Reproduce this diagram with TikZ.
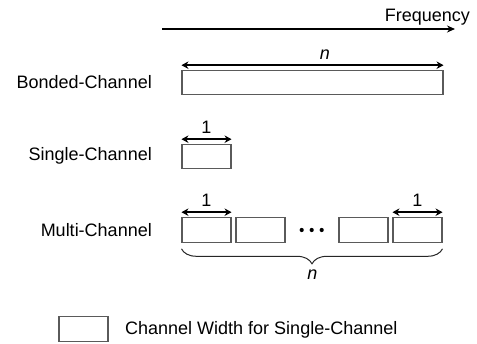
\documentclass[tikz,border=0pt]{standalone}
\usepackage{fontspec}
\setmainfont{Liberation Sans}
\usetikzlibrary{arrows.meta,decorations.pathreplacing}
\definecolor{boxline}{HTML}{5A5A5A}
\tikzset{
  chan/.style={draw=boxline, line width=1.1pt, fill=white, minimum height=24.5pt, inner sep=0pt},
  txt/.style={font=\fontsize{18}{21}\selectfont, inner sep=0pt},
  dimarrow/.style={line width=1.8pt, {Stealth[length=7pt,width=7.5pt]}-{Stealth[length=7pt,width=7.5pt]}},
  freqarrow/.style={line width=1.8pt, -{Stealth[length=8pt,width=7pt]}},
  dot/.style={circle, fill=black, inner sep=0pt, minimum size=4.2pt}
}
\begin{document}
\begin{tikzpicture}[x=1pt,y=-1pt]
\useasboundingbox (0,0) rectangle (477,344);

% frequency axis
\coordinate (fstart) at (162,29);
\coordinate (fend) at (455,29);
\draw[freqarrow] (fstart) -- (fend);
\node[txt, anchor=base east] (freq) at (470,21.5) {Frequency};

% bonded channel
\node[chan, minimum width=261pt] (bond) at (312.5,82.5) {};
\node[txt, anchor=base east] (lbond) at (152,89) {Bonded-Channel};
\draw[dimarrow] ([yshift=4.5pt]bond.north west) -- ([yshift=4.5pt]bond.north east);
\node[txt, anchor=base] (nbond) at (325,60) {\itshape n};

% single channel
\node[chan, minimum width=49pt] (single) at (206.5,156.5) {};
\node[txt, anchor=base east] (lsingle) at (152,160.7) {Single-Channel};
\draw[dimarrow] ([yshift=4.5pt]single.north west) -- ([yshift=4.5pt]single.north east)
  node[txt, midway, anchor=base, yshift=6pt] (onesingle) {1};

% multi channel
\node[chan, minimum width=49pt] (m1) at (206.5,230) {};
\node[chan, minimum width=49pt] (m2) at (260.5,230) {};
\node[chan, minimum width=49pt] (m3) at (363.5,230) {};
\node[chan, minimum width=49pt] (m4) at (417.5,230) {};
\node[dot] (d1) at (301.7,230) {};
\node[dot] (d2) at (311.7,230) {};
\node[dot] (d3) at (321.7,230) {};
\node[txt, anchor=base east] (lmulti) at (152,236.7) {Multi-Channel};
\draw[dimarrow] ([yshift=5pt]m1.north west) -- ([yshift=5pt]m1.north east)
  node[txt, midway, anchor=base, yshift=6pt] (onea) {1};
\draw[dimarrow] ([yshift=5pt]m4.north west) -- ([yshift=5pt]m4.north east)
  node[txt, midway, anchor=base, yshift=6pt] (oneb) {1};
\draw[line width=1pt, black!85, decorate, decoration={brace, mirror, amplitude=15pt}]
  ([yshift=-6pt]m1.south west) -- ([yshift=-6pt]m4.south east);
\node[txt, anchor=base] (nmulti) at (312.5,280) {\itshape n};

% legend
\node[chan, minimum width=49pt] (legbox) at (83.5,329) {};
\node[txt, anchor=base west] (legtxt) at (125,335) {Channel Width for Single-Channel};
\end{tikzpicture}
\end{document}
